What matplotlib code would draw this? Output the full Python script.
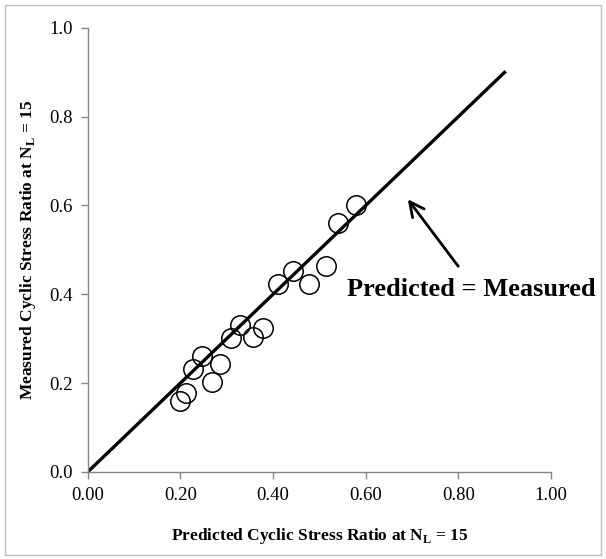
import matplotlib
matplotlib.use("Agg")
import matplotlib.pyplot as plt
from matplotlib.patches import Rectangle

plt.rcParams['font.family'] = ['Liberation Serif', 'DejaVu Serif']
plt.rcParams['mathtext.fontset'] = 'custom'
plt.rcParams['mathtext.rm'] = 'Liberation Serif'
plt.rcParams['mathtext.bf'] = 'Liberation Serif:bold'

predicted = [0.199, 0.212, 0.227, 0.246, 0.268, 0.285, 0.309, 0.328, 0.356, 0.378,
             0.410, 0.443, 0.477, 0.514, 0.540, 0.580]
measured = [0.160, 0.178, 0.232, 0.261, 0.203, 0.243, 0.302, 0.331, 0.304, 0.324,
            0.422, 0.453, 0.422, 0.464, 0.560, 0.600]
line_x = [0.0, 0.9]
line_y = [0.0, 0.9]
x_ticks = [0.0, 0.2, 0.4, 0.6, 0.8, 1.0]
y_ticks = [0.0, 0.2, 0.4, 0.6, 0.8, 1.0]
x_labels = ['0.00', '0.20', '0.40', '0.60', '0.80', '1.00']
y_labels = ['0.0', '0.2', '0.4', '0.6', '0.8', '1.0']

fig = plt.figure(figsize=(6.06, 5.59), dpi=100)
fig.patches.append(Rectangle((0.008, 0.008), 0.984, 0.983, transform=fig.transFigure,
                             fill=False, edgecolor='#bfbfbf', linewidth=1.0))
ax = fig.add_axes([0.145, 0.156, 0.764, 0.794])

ax.plot(line_x, line_y, color='black', linewidth=2.4, zorder=2)
ax.plot(predicted, measured, linestyle='none', marker='o', markersize=14,
        markerfacecolor='none', markeredgecolor='black', markeredgewidth=1.1, zorder=3)

ax.set_xlim(0, 1.0)
ax.set_ylim(0, 1.0)
ax.set_xticks(x_ticks)
ax.set_xticklabels(x_labels)
ax.set_yticks(y_ticks)
ax.set_yticklabels(y_labels)
for s in ['top', 'right']:
    ax.spines[s].set_visible(False)
for s in ['left', 'bottom']:
    ax.spines[s].set_color('#868686')
    ax.spines[s].set_linewidth(1.0)
ax.tick_params(axis='both', direction='out', length=5, width=1.0, color='#868686',
               labelsize=13.5, pad=6)

ax.set_xlabel(r'Predicted Cyclic Stress Ratio at N$_{\mathbf{L}}$ = 15', fontsize=12.5,
              fontweight='bold', labelpad=16)
ax.set_ylabel(r'Measured Cyclic Stress Ratio at N$_{\mathbf{L}}$ = 15', fontsize=12.5,
              fontweight='bold', labelpad=8)

ax.annotate('Predicted = Measured', xy=(0.691, 0.614), xytext=(0.56, 0.41),
            fontsize=19, fontweight='bold', va='center', ha='left',
            annotation_clip=False)
ax.annotate('', xy=(0.691, 0.614), xytext=(0.80, 0.463),
            arrowprops=dict(arrowstyle='->', color='black', lw=2.0,
                            mutation_scale=26, shrinkA=0, shrinkB=0))

fig.savefig('out.png', dpi=100)
